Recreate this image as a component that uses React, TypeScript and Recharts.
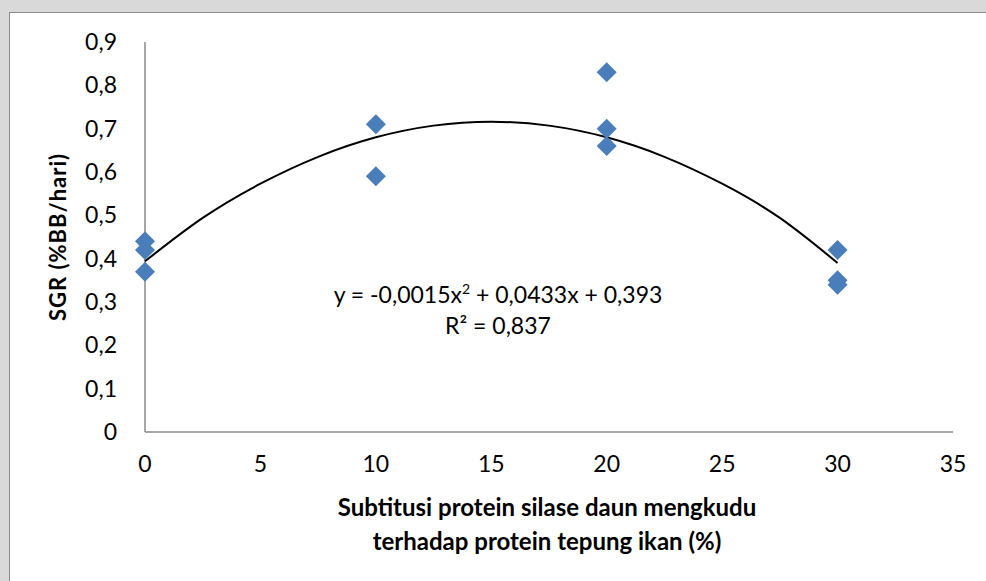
import { Scatter, ScatterChart, XAxis, YAxis } from 'recharts'

// perlakuan (% substitusi) dan SGR tiap ulangan
const DOSES = [0, 0, 0, 10, 10, 20, 20, 20, 30, 30, 30]
const SGR = [0.44, 0.42, 0.37, 0.71, 0.59, 0.83, 0.7, 0.66, 0.42, 0.35, 0.34]

// titik garis trend polinomial
const TREND_X = [0, 2.5, 5, 7.5, 10, 12.5, 15, 17.5, 20, 22.5, 25, 27.5, 30]
const TREND_Y = [0.394, 0.494, 0.573, 0.635, 0.68, 0.707, 0.716, 0.707, 0.68, 0.635, 0.573, 0.494, 0.39]

const X_TICKS = [0, 5, 10, 15, 20, 25, 30, 35]
const Y_TICKS = [0, 0.1, 0.2, 0.3, 0.4, 0.5, 0.6, 0.7, 0.8, 0.9]

const points = DOSES.map((x, i) => ({ x, y: SGR[i] }))
const trend = TREND_X.map((x, i) => ({ x, y: TREND_Y[i] }))

const FONT = 'Lato, "Open Sans", sans-serif'
const AXIS = '#8a8a8a'
const BLUE = '#4a7ebb'

function Diamond(props: { cx?: number; cy?: number }) {
  const { cx = 0, cy = 0 } = props
  const r = 10
  return <path d={`M${cx},${cy - r}L${cx + r},${cy}L${cx},${cy + r}L${cx - r},${cy}Z`} fill={BLUE} />
}

const fmt = (v: number) => String(v).replace('.', ',')

export default function App() {
  return (
    <div style={{ position: 'fixed', left: 0, top: 0, width: 986, height: 581, background: '#d9d9d9', overflow: 'hidden', fontFamily: FONT }}>
      <div
        style={{
          position: 'absolute',
          left: 9,
          top: 12,
          right: 0,
          bottom: 0,
          background: '#fff',
          borderTop: '1px solid #8c8c8c',
          borderLeft: '1px solid #8c8c8c',
        }}
      />
      <div style={{ position: 'absolute', left: 0, top: 0 }}>
        <ScatterChart width={986} height={581} margin={{ top: 42, right: 33, left: 0, bottom: 0 }}>
          <XAxis
            type="number"
            dataKey="x"
            domain={[0, 35]}
            ticks={X_TICKS}
            tickLine={false}
            tickSize={0}
            tickMargin={24}
            height={149}
            axisLine={{ stroke: AXIS, strokeWidth: 1.5 }}
            tick={{ fontSize: 23, fill: '#000', fontFamily: FONT }}
          />
          <YAxis
            type="number"
            dataKey="y"
            domain={[0, 0.9]}
            ticks={Y_TICKS}
            tickFormatter={fmt}
            tickLine={false}
            tickSize={0}
            tickMargin={28}
            width={145}
            axisLine={{ stroke: AXIS, strokeWidth: 1.5 }}
            tick={{ fontSize: 23, fill: '#000', fontFamily: FONT }}
          />
          <Scatter
            data={trend}
            line={{ stroke: '#000', strokeWidth: 2 }}
            lineJointType="natural"
            shape={() => <g />}
            isAnimationActive={false}
          />
          <Scatter data={points} shape={<Diamond />} isAnimationActive={false} />
        </ScatterChart>
      </div>

      <div style={{ position: 'absolute', left: 248, width: 500, top: 279, textAlign: 'center', fontSize: 23, lineHeight: '31px', color: '#000' }}>
        <div>
          y = -0,0015x<sup style={{ fontSize: 14, verticalAlign: 9, lineHeight: 0 }}>2</sup> + 0,0433x + 0,393
        </div>
        <div>R² = 0,837</div>
      </div>

      <div style={{ position: 'absolute', left: 247, width: 600, top: 490, textAlign: 'center', fontSize: 24, fontWeight: 700, lineHeight: '34px', color: '#000' }}>
        <div>Subtitusi protein silase daun mengkudu</div>
        <div>terhadap protein tepung ikan (%)</div>
      </div>

      <div
        style={{
          position: 'absolute',
          left: 57,
          top: 237,
          transform: 'translate(-50%, -50%) rotate(-90deg)',
          whiteSpace: 'nowrap',
          fontSize: 22,
          fontWeight: 700,
          letterSpacing: 1,
          color: '#000',
        }}
      >
        SGR (%BB/hari)
      </div>
    </div>
  )
}
